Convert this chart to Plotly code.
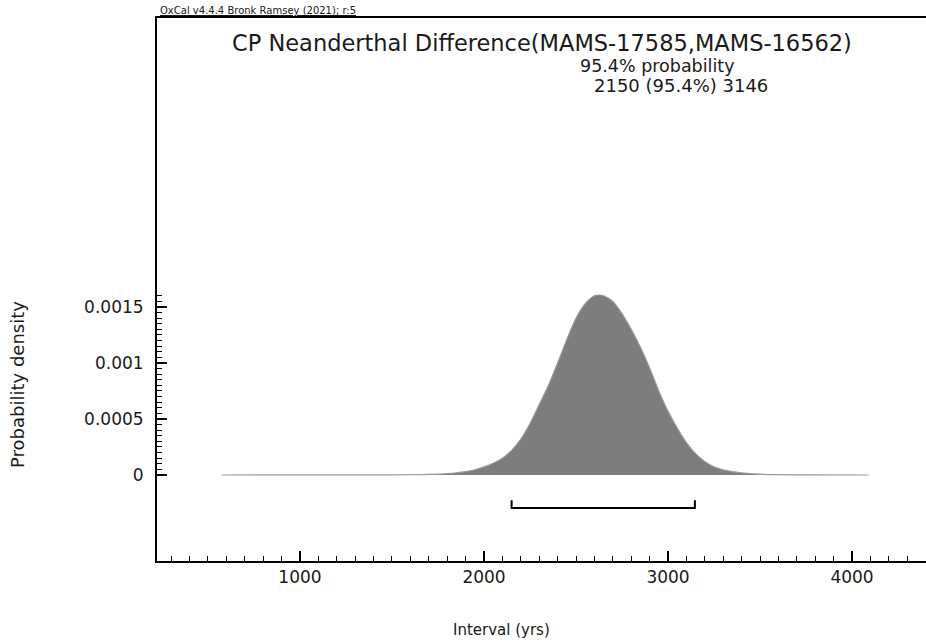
import plotly.graph_objects as go

# ---- data ----
interval_yrs = [575, 1500, 1600, 1700, 1800, 1850, 1900, 1950, 2000, 2050, 2100, 2150, 2200,
                2250, 2300, 2350, 2400, 2450, 2500, 2550, 2600, 2630, 2650, 2700, 2750,
                2800, 2850, 2900, 2950, 3000, 3050, 3100, 3150, 3200, 3250, 3300, 3400,
                3500, 3600, 3700, 4090]
density_e3 = [0.0, 0.0005, 0.002, 0.005, 0.012, 0.019, 0.03, 0.047, 0.072, 0.105, 0.15, 0.22,
              0.32, 0.46, 0.63, 0.80, 1.00, 1.21, 1.40, 1.53, 1.60, 1.607, 1.60, 1.55,
              1.44, 1.30, 1.14, 0.955, 0.75, 0.57, 0.42, 0.29, 0.19, 0.12, 0.072, 0.045,
              0.018, 0.007, 0.003, 0.001, 0.0]
density = [v * 1e-3 for v in density_e3]

range_95_lo = 2150
range_95_hi = 3146

x_tickvals = [1000, 2000, 3000, 4000]
y_tickvals = [0, 0.0005, 0.001, 0.0015]
y_ticktext = ["0", "0.0005", "0.001", "0.0015"]
y_minor_vals = [i * 0.00005 for i in range(0, 33)]

title_text = "CP Neanderthal Difference(MAMS-17585,MAMS-16562)"
prob_text = "95.4% probability"
range_text = "2150 (95.4%) 3146"
oxcal_text = "OxCal v4.4.4 Bronk Ramsey (2021); r:5"

# bracket vertical placement (data units below zero)
bracket_y = -0.000295
bracket_tick_y = -0.000225

FONT = "DejaVu Sans"

fig = go.Figure()
fig.add_trace(go.Scatter(
    x=interval_yrs, y=density, mode="lines", fill="tozeroy",
    fillcolor="#7d7d7d", line=dict(color="#9a9a9a", width=1.2, shape="spline", smoothing=0.8),
    hoverinfo="skip", showlegend=False))
fig.add_trace(go.Scatter(
    x=[range_95_lo, range_95_lo, range_95_hi, range_95_hi],
    y=[bracket_tick_y, bracket_y, bracket_y, bracket_tick_y],
    mode="lines", line=dict(color="black", width=2),
    hoverinfo="skip", showlegend=False))

fig.update_layout(
    width=926, height=643,
    margin=dict(l=157, r=0, t=18, b=82),
    paper_bgcolor="white", plot_bgcolor="white",
    font=dict(family=FONT, color="#1a1a1a"),
    xaxis=dict(range=[223, 4402], tickmode="array", tickvals=x_tickvals,
               ticks="inside", ticklen=10, tickwidth=1.5, tickcolor="black",
               showline=True, linewidth=2, linecolor="black", mirror=True,
               showgrid=False, zeroline=False,
               tickfont=dict(family=FONT, size=17, color="#1a1a1a"),
               minor=dict(dtick=100, tick0=0, ticks="inside", ticklen=5,
                          tickwidth=1.2, tickcolor="black", showgrid=False)),
    yaxis=dict(range=[-0.000768, 0.00408], tickmode="array",
               tickvals=y_tickvals, ticktext=y_ticktext,
               ticks="inside", ticklen=10, tickwidth=1.5, tickcolor="black",
               showline=True, linewidth=2, linecolor="black",
               showgrid=False, zeroline=False, ticklabelstandoff=8,
               tickfont=dict(family=FONT, size=17, color="#1a1a1a"),
               minor=dict(tickmode="array", tickvals=y_minor_vals, ticks="inside",
                          ticklen=5, tickwidth=1.2, tickcolor="black", showgrid=False)),
)

ann = [
    dict(text=title_text, x=0.5, y=0.954, xanchor="center", yanchor="middle",
         font=dict(size=22.5)),
    dict(text=prob_text, x=0.5475, y=0.9116, xanchor="left", yanchor="middle",
         font=dict(size=17.5)),
    dict(text=range_text, x=0.5657, y=0.8748, xanchor="left", yanchor="middle",
         font=dict(size=18)),
    dict(text="<u>" + oxcal_text + "</u>", x=0.0013, y=1.0147, xanchor="left",
         yanchor="middle", font=dict(size=10)),
    dict(text="Probability density", x=-0.1808, y=0.326, xanchor="center",
         yanchor="middle", textangle=-90, font=dict(size=18)),
    dict(text="Interval (yrs)", x=0.4486, y=-0.127, xanchor="center",
         yanchor="middle", font=dict(size=15)),
]
for a in ann:
    a.update(xref="paper", yref="paper", showarrow=False)
    fig.add_annotation(**a)

fig.write_html("out.html")
